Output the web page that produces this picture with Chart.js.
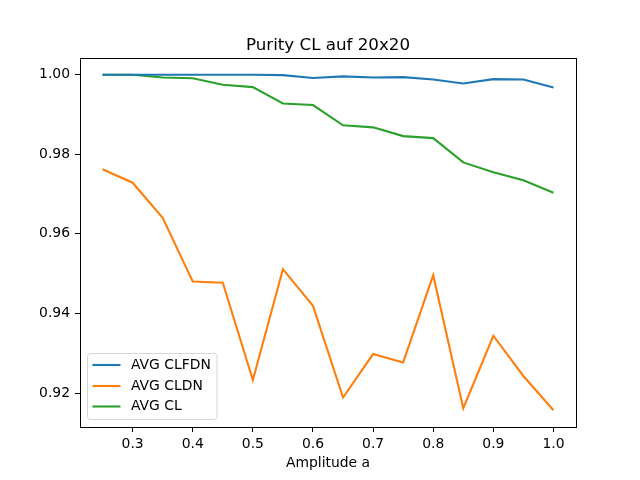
<!DOCTYPE html>
<html><head><meta charset="utf-8">
<script src="https://cdn.jsdelivr.net/npm/chart.js@4"></script>
<style>html,body{margin:0;padding:0;background:#fff}#w{width:640px;height:480px}</style>
</head><body><div id="w"><canvas id="c" width="640" height="480"></canvas></div>
<script>
const amplitudes = [0.25,0.3,0.35,0.4,0.45,0.5,0.55,0.6,0.65,0.7,0.75,0.8,0.85,0.9,0.95,1.0];
const avgCLFDN = [0.9999,0.9999,0.9999,0.9999,0.9999,0.9999,0.9998,0.9991,0.9995,0.9992,0.9993,0.9987,0.9977,0.9988,0.9987,0.9967];
const avgCLDN  = [0.9762,0.9728,0.9640,0.9480,0.9477,0.9233,0.9511,0.9419,0.9189,0.9298,0.9277,0.9496,0.9162,0.9344,0.9243,0.9157];
const avgCL    = [0.9999,0.9999,0.9992,0.9990,0.9974,0.9968,0.9927,0.9923,0.9872,0.9867,0.9845,0.9840,0.9779,0.9754,0.9734,0.9703];
const xTicks = [0.3,0.4,0.5,0.6,0.7,0.8,0.9,1.0];
const yTicks = [0.92,0.94,0.96,0.98,1.00];
const seriesNames = ['AVG CLFDN','AVG CLDN','AVG CL'];
const seriesColors = ['#1f77b4','#ff7f0e','#2ca02c'];
const titleText = 'Purity CL auf 20x20';
const xLabel = 'Amplitude a';

const FONT = '"DejaVu Sans", sans-serif';
const allSeries = [avgCLFDN, avgCLDN, avgCL];
const datasets = allSeries.map((s,i)=>({
  label: seriesNames[i],
  data: amplitudes.map((x,j)=>({x:x,y:s[j]})),
  borderColor: seriesColors[i],
  backgroundColor: seriesColors[i],
  borderWidth: 2.1,
  pointRadius: 0,
  tension: 0,
  fill: false
}));

const deco = {
  id:'deco',
  afterDraw(chart){
    const ctx = chart.ctx, a = chart.chartArea;
    ctx.save();
    ctx.strokeStyle = '#000'; ctx.lineWidth = 1;
    ctx.strokeRect(Math.round(a.left)+0.5, Math.round(a.top)+0.5, Math.round(a.right-a.left), Math.round(a.bottom-a.top));
    ctx.fillStyle = '#000';
    ctx.textAlign = 'center'; ctx.textBaseline = 'alphabetic';
    ctx.font = '16.7px ' + FONT;
    ctx.fillText(titleText, (a.left+a.right)/2, 49.5);
    ctx.font = '13.9px ' + FONT;
    ctx.fillText(xLabel, (a.left+a.right)/2, 467);
    // legend
    const bx = 87.5, by = 353.5, bw = 129.5, bh = 66, r = 3;
    ctx.beginPath();
    ctx.moveTo(bx+r,by); ctx.lineTo(bx+bw-r,by); ctx.arcTo(bx+bw,by,bx+bw,by+r,r);
    ctx.lineTo(bx+bw,by+bh-r); ctx.arcTo(bx+bw,by+bh,bx+bw-r,by+bh,r);
    ctx.lineTo(bx+r,by+bh); ctx.arcTo(bx,by+bh,bx,by+bh-r,r);
    ctx.lineTo(bx,by+r); ctx.arcTo(bx,by,bx+r,by,r); ctx.closePath();
    ctx.fillStyle = 'rgba(255,255,255,0.8)'; ctx.fill();
    ctx.strokeStyle = '#d6d6d6'; ctx.lineWidth = 1; ctx.stroke();
    ctx.textAlign = 'left'; ctx.textBaseline = 'middle';
    ctx.font = '13.9px ' + FONT;
    const rows = [365, 386, 406.5];
    seriesNames.forEach((n,i)=>{
      ctx.strokeStyle = seriesColors[i]; ctx.lineWidth = 2.1;
      ctx.beginPath(); ctx.moveTo(92.5, rows[i]); ctx.lineTo(120.5, rows[i]); ctx.stroke();
      ctx.fillStyle = '#000';
      ctx.fillText(n, 131, rows[i]);
    });
    ctx.restore();
  }
};

new Chart(document.getElementById('c'), {
  type:'line',
  data:{datasets},
  options:{
    responsive:false, animation:false, devicePixelRatio:1,
    layout:{padding:{left:0,right:64,top:58,bottom:0}},
    plugins:{legend:{display:false}, title:{display:false}, tooltip:{enabled:false}},
    scales:{
      x:{type:'linear', min:0.2125, max:1.0375,
        afterBuildTicks(s){ s.ticks = xTicks.map(v=>({value:v})); },
        afterFit(s){ s.height = 53; },
        grid:{drawOnChartArea:false, tickLength:5, tickColor:'#000', color:'#000'},
        border:{color:'#000', width:1},
        ticks:{color:'#000', padding:4, maxRotation:0, font:{family:FONT, size:13.9},
          callback:v=>Number(v).toFixed(1)}
      },
      y:{type:'linear', min:0.9115, max:1.0041,
        afterBuildTicks(s){ s.ticks = yTicks.map(v=>({value:v})); },
        afterFit(s){ s.width = 80; },
        grid:{drawOnChartArea:false, tickLength:5, tickColor:'#000', color:'#000'},
        border:{color:'#000', width:1},
        ticks:{color:'#000', padding:5, font:{family:FONT, size:13.9},
          callback:v=>Number(v).toFixed(2)}
      }
    }
  },
  plugins:[deco]
});
</script></body></html>
